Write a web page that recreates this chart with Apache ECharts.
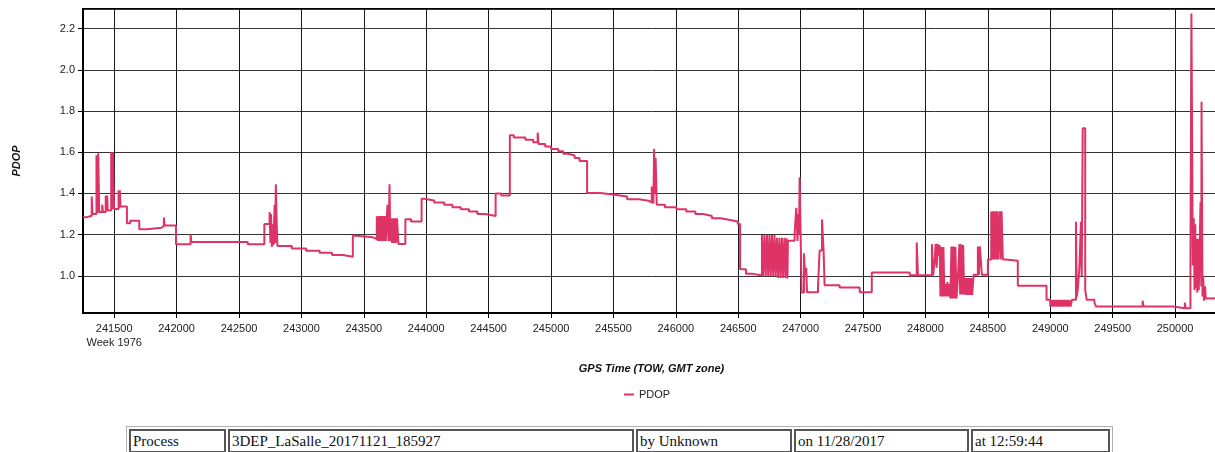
<!DOCTYPE html>
<html>
<head>
<meta charset="utf-8">
<script src="https://cdn.jsdelivr.net/npm/echarts@6/dist/echarts.min.js"></script>
<style>
  html, body { margin: 0; padding: 0; background: #fff; overflow: hidden; width: 1215px; height: 452px; }
  #chart { position: absolute; left: 0; top: 0; width: 1230px; height: 452px; }
  #info { position: absolute; left: 126px; top: 426px; border-collapse: separate; border-spacing: 2px;
          border: 1px solid #b0b0b0; background: #fff; }
  #info td { border: 2px solid #555; font: 15px "Liberation Serif", "DejaVu Serif", serif; color: #111;
             padding: 0 2px; height: 20px; line-height: 20px; white-space: nowrap; }
</style>
</head>
<body>
<div id="chart"></div>
<table id="info"><tr>
  <td style="width:89px">Process</td>
  <td style="width:398px">3DEP_LaSalle_20171121_185927</td>
  <td style="width:148px">by Unknown</td>
  <td style="width:167px">on 11/28/2017</td>
  <td style="width:131px">at 12:59:44</td>
</tr></table>
<script>
// GPS time of week (s) at which each PDOP level starts (stepwise record)
const tow = [
  241250, 241280, 241320, 241326, 241358, 241366, 241372, 241380, 241404, 241410,
  241432, 241437, 241443, 241448, 241476, 241484, 241490, 241498, 241535, 241541,
  241545, 241550, 241602, 241628, 241701, 241762, 241880, 241898, 241904, 241995,
  242112, 242118, 242570, 242703, 242745, 242752, 242757, 242763, 242770, 242777,
  242785, 242790, 242795, 242802, 242808, 242923, 243038, 243146, 243245, 243332,
  243412, 243440, 243572,
  243604, 243612, 243620, 243628, 243636, 243644, 243652, 243660, 243668, 243676,
  243684, 243690, 243698, 243706, 243712, 243718, 243726, 243734, 243742, 243750,
  243758, 243766, 243777,
  243833, 243878, 243963, 243984, 244064, 244144, 244210, 244277, 244343, 244410,
  244476, 244556, 244601, 244670, 244702, 244795, 244857, 244893, 244900, 244953,
  245000, 245058, 245097, 245137, 245189, 245229, 245289, 245395, 245510, 245610,
  245702, 245781, 245807, 245820, 245826, 245832, 245838, 245847, 245913, 246005,
  246084, 246157, 246220, 246289, 246360, 246425, 246496, 246515, 246562, 246610,
  246690, 246700, 246710, 246720, 246730, 246740, 246750, 246760, 246770, 246780,
  246790, 246800, 246810, 246820, 246830, 246840, 246850, 246860, 246870, 246880,
  246888, 246894,
  246898, 246952, 246965, 246975, 246981, 246987, 246992, 247008, 247027, 247035,
  247045, 247051, 247139, 247152, 247171, 247184, 247192, 247312, 247473, 247570,
  247874, 247930, 247940, 248052, 248062, 248073, 248082, 248090, 248098, 248106,
  248114, 248120, 248128, 248136, 248144, 248152, 248160, 248168, 248176, 248184,
  248192, 248200, 248208, 248216, 248224, 248232, 248240, 248248, 248258, 248272,
  248278, 248286, 248294, 248302, 248310, 248318, 248326, 248334, 248342, 248350,
  248358, 248366, 248374, 248386, 248420, 248428, 248436, 248452, 248500, 248527,
  248535, 248543, 248551, 248559, 248567, 248575, 248582, 248594, 248602, 248610,
  248620, 248643, 248740, 248970,
  249000, 249010, 249018, 249028, 249036, 249046, 249054, 249064, 249072, 249082,
  249090, 249100, 249108, 249118, 249126, 249136, 249144, 249154, 249162, 249174,
  249206, 249212, 249220, 249233, 249246, 249252, 249260, 249280, 249292, 249354,
  249367, 249740, 249748, 249984, 250078, 250086, 250123, 250131, 250142, 250150,
  250156, 250162, 250168, 250172, 250178, 250184, 250190, 250198, 250204, 250210,
  250212, 250220, 250225, 250232, 250240, 250246, 250252, 250360
];
const pdop = [
  1.285, 1.292, 1.385, 1.300, 1.585, 1.305, 1.595, 1.310, 1.345, 1.310,
  1.390, 1.317, 1.390, 1.317, 1.600, 1.325, 1.600, 1.325, 1.415, 1.330,
  1.415, 1.337, 1.255, 1.267, 1.226, 1.234, 1.242, 1.283, 1.244, 1.153,
  1.200, 1.164, 1.153, 1.252, 1.310, 1.160, 1.300, 1.140, 1.250, 1.150,
  1.345, 1.160, 1.445, 1.250, 1.145, 1.133, 1.122, 1.112, 1.101, 1.093,
  1.195, 1.187, 1.179,
  1.290, 1.170, 1.290, 1.170, 1.290, 1.170, 1.290, 1.170, 1.290, 1.170,
  1.290, 1.345, 1.170, 1.445, 1.170, 1.280, 1.160, 1.280, 1.160, 1.280,
  1.160, 1.280, 1.155,
  1.275, 1.264, 1.374, 1.366, 1.356, 1.345, 1.333, 1.323, 1.312, 1.300,
  1.291, 1.400, 1.390, 1.683, 1.672, 1.660, 1.648, 1.695, 1.640, 1.628,
  1.616, 1.605, 1.593, 1.584, 1.572, 1.558, 1.402, 1.394, 1.385, 1.372,
  1.365, 1.356, 1.434, 1.350, 1.616, 1.400, 1.572, 1.345, 1.333, 1.323,
  1.312, 1.300, 1.291, 1.280, 1.272, 1.264, 1.252, 1.032, 1.011, 1.002,
  1.198, 0.998, 1.198, 0.998, 1.198, 0.998, 1.198, 0.998, 1.198, 0.998,
  1.198, 0.998, 1.185, 0.990, 1.185, 0.990, 1.185, 0.990, 1.185, 0.990,
  1.183, 0.988,
  1.170, 1.210, 1.330, 1.170, 1.300, 1.200, 1.478, 0.920, 1.110, 1.005,
  1.040, 0.921, 0.948, 1.123, 1.274, 1.120, 0.955, 0.944, 0.921, 1.016,
  1.003, 1.162, 1.003, 1.154, 1.003, 1.070, 1.156, 1.040, 1.156, 1.100,
  1.150, 0.900, 1.140, 0.900, 1.140, 0.900, 0.960, 0.900, 0.970, 0.900,
  0.960, 0.890, 1.143, 0.890, 1.143, 0.890, 1.140, 0.890, 0.970, 1.154,
  0.910, 1.154, 0.910, 1.150, 0.910, 0.990, 0.908, 0.990, 0.908, 0.990,
  0.908, 0.990, 0.908, 1.005, 1.143, 1.005, 1.143, 1.005, 1.080, 1.313,
  1.080, 1.313, 1.080, 1.313, 1.080, 1.313, 1.080, 1.313, 1.080, 1.313,
  1.080, 1.073, 0.952, 0.884,
  0.851, 0.884, 0.851, 0.884, 0.851, 0.884, 0.851, 0.884, 0.851, 0.884,
  0.851, 0.884, 0.851, 0.884, 0.851, 0.884, 0.851, 0.884, 0.851, 0.884,
  1.263, 0.900, 0.932, 1.037, 1.263, 1.000, 1.716, 0.932, 0.884, 0.870,
  0.851, 0.880, 0.851, 0.843, 0.870, 0.843, 1.037, 2.273, 1.050, 1.280,
  0.930, 1.250, 0.940, 1.180, 0.920, 1.180, 0.930, 1.175, 1.360, 0.950,
  1.845, 0.900, 1.000, 0.880, 0.950, 0.890, 0.892, 0.892
];
const seriesName = 'PDOP';
const yAxisTitle = 'PDOP';
const xAxisTitle = 'GPS Time (TOW, GMT zone)';
const weekLabel = 'Week 1976';
const firstTick = 241500;

const data = tow.map((t, i) => [t, pdop[i]]);
const lblFont = '"Liberation Sans", Arial, sans-serif';

const chart = echarts.init(document.getElementById('chart'), null, { renderer: 'canvas' });
chart.setOption({
  animation: false,
  backgroundColor: '#fff',
  grid: { left: 83, top: 9, right: 10, bottom: 139, show: true, borderColor: '#000', borderWidth: 2, containLabel: false },
  legend: {
    data: [{ name: seriesName, icon: 'rect' }], left: 619, top: 384, itemWidth: 10, itemHeight: 2,
    textStyle: { fontSize: 11, color: '#222', fontFamily: lblFont }
  },
  xAxis: {
    type: 'value', min: 241250, max: 250360, splitNumber: 18,
    name: xAxisTitle, nameLocation: 'middle', nameGap: 50,
    nameTextStyle: { fontSize: 11, fontWeight: 'bold', fontStyle: 'italic', color: '#111', fontFamily: lblFont },
    axisLine: { show: true, onZero: false, lineStyle: { color: '#000', width: 2 } },
    axisTick: { show: true, length: 5, lineStyle: { color: '#000' } },
    axisLabel: {
      showMinLabel: false, showMaxLabel: false, margin: 9, color: '#222', fontSize: 11, fontFamily: lblFont,
      lineHeight: 14,
      formatter: v => v === firstTick ? v + '\n' + weekLabel : String(v)
    },
    splitLine: { show: true, lineStyle: { color: '#1a1a1a', width: 1 } }
  },
  yAxis: {
    type: 'value', min: 0.82, max: 2.295, splitNumber: 7,
    name: yAxisTitle, nameLocation: 'middle', nameGap: 61,
    nameTextStyle: { fontSize: 11, fontWeight: 'bold', fontStyle: 'italic', color: '#111', fontFamily: lblFont },
    axisLine: { show: true, lineStyle: { color: '#000', width: 2 } },
    axisTick: { show: true, length: 5, lineStyle: { color: '#000' } },
    axisLabel: {
      showMinLabel: false, showMaxLabel: false, margin: 8, color: '#222', fontSize: 11, fontFamily: lblFont,
      formatter: v => v.toFixed(1)
    },
    splitLine: { show: true, lineStyle: { color: '#333', width: 1 } }
  },
  series: [{
    name: seriesName, type: 'line', step: 'end', data: data,
    symbol: 'none', showSymbol: false, clip: true,
    lineStyle: { color: '#dd3366', width: 2 },
    itemStyle: { color: '#dd3366' }
  }]
});
</script>
</body>
</html>
